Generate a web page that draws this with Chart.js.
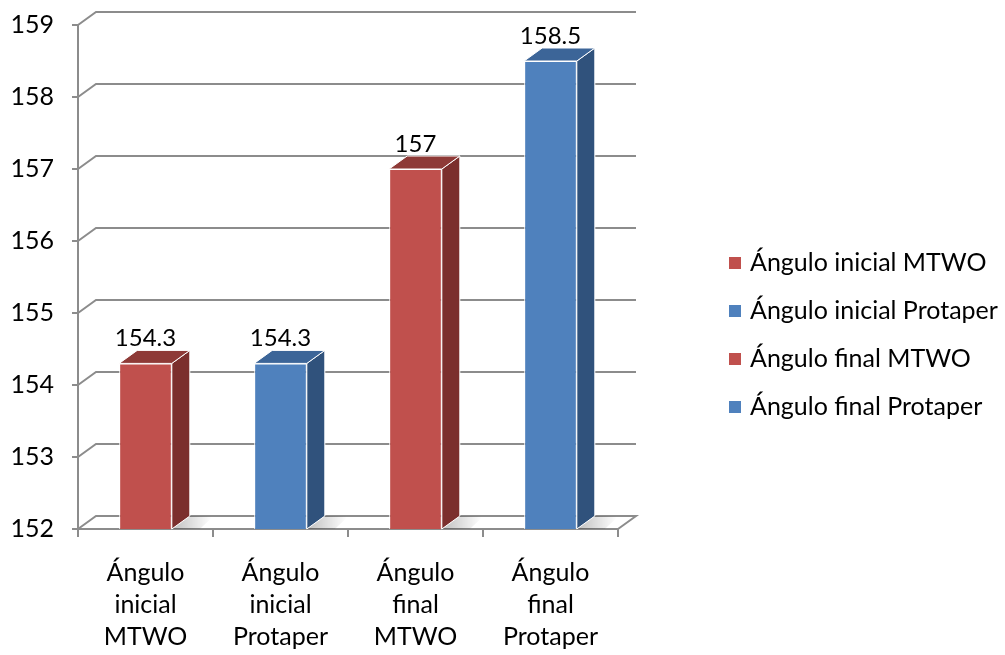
<!DOCTYPE html>
<html>
<head>
<meta charset="utf-8">
<script src="https://cdn.jsdelivr.net/npm/chart.js"></script>
<style>
  html, body { margin: 0; padding: 0; background: #fff; }
  #wrap { width: 1005px; height: 655px; }
</style>
</head>
<body>
<div id="wrap"><canvas id="myChart" width="1005" height="655"></canvas></div>
<script>
// data
const categories = [
    ['Ángulo', 'inicial', 'MTWO'],
    ['Ángulo', 'inicial', 'Protaper'],
    ['Ángulo', 'final', 'MTWO'],
    ['Ángulo', 'final', 'Protaper']
];
const legendLabels = ['Ángulo inicial MTWO', 'Ángulo inicial Protaper', 'Ángulo final MTWO', 'Ángulo final Protaper'];
const values = [154.3, 154.3, 157, 158.5];
const valueLabels = ['154.3', '154.3', '157', '158.5'];
const yTicks = [152, 153, 154, 155, 156, 157, 158, 159];

// colours: front, side, top
const frontColors = ['#C0504D', '#4F81BD', '#C0504D', '#4F81BD'];
const sideColors = ['#7B2F2D', '#30527C', '#7B2F2D', '#30527C'];
const topColors = ['#8E3A37', '#3C6598', '#8E3A37', '#3C6598'];

const FONT = 'Lato, "Open Sans", sans-serif';
const DX = 18, DY = -13; // depth offset
const gridColor = '#8C8C8C';

// Back wall + floor gridlines
const wallPlugin = {
    id: 'wall',
    beforeDatasetsDraw(chart) {
        const ctx = chart.ctx;
        const area = chart.chartArea;
        const y = chart.scales.y;
        const floor = y.getPixelForValue(yTicks[0]);
        ctx.save();
        ctx.strokeStyle = gridColor;
        ctx.lineWidth = 2;
        yTicks.forEach(v => {
            const py = y.getPixelForValue(v);
            ctx.beginPath();
            ctx.moveTo(area.left, py);
            ctx.lineTo(area.left + DX, py + DY);
            ctx.lineTo(area.right + DX, py + DY);
            if (v === yTicks[0]) {
                ctx.lineTo(area.right, py);
            }
            ctx.stroke();
        });
        // floor shadows behind bars
        const meta = chart.getDatasetMeta(0);
        meta.data.forEach(bar => {
            const right = bar.x + bar.width / 2;
            const g = ctx.createLinearGradient(right, 0, right + 40, 0);
            g.addColorStop(0, 'rgba(0,0,0,0.25)');
            g.addColorStop(1, 'rgba(0,0,0,0)');
            ctx.fillStyle = g;
            ctx.beginPath();
            ctx.moveTo(right, floor);
            ctx.lineTo(right + DX, floor + DY);
            ctx.lineTo(right + DX + 24, floor + DY);
            ctx.lineTo(right + 28, floor);
            ctx.closePath();
            ctx.fill();
        });
        ctx.restore();
    }
};

// 3D faces, value labels, legend
const boxPlugin = {
    id: 'box',
    afterDatasetsDraw(chart) {
        const ctx = chart.ctx;
        const meta = chart.getDatasetMeta(0);
        const base = chart.scales.y.getPixelForValue(yTicks[0]);
        ctx.save();
        ctx.lineWidth = 1;
        ctx.strokeStyle = '#FFFFFF';
        meta.data.forEach((bar, i) => {
            const left = bar.x - bar.width / 2;
            const right = bar.x + bar.width / 2;
            const top = bar.y;
            // side
            ctx.fillStyle = sideColors[i];
            ctx.beginPath();
            ctx.moveTo(right, top);
            ctx.lineTo(right + DX, top + DY);
            ctx.lineTo(right + DX, base + DY);
            ctx.lineTo(right, base);
            ctx.closePath();
            ctx.fill();
            ctx.stroke();
            // top
            ctx.fillStyle = topColors[i];
            ctx.beginPath();
            ctx.moveTo(left, top);
            ctx.lineTo(left + DX, top + DY);
            ctx.lineTo(right + DX, top + DY);
            ctx.lineTo(right, top);
            ctx.closePath();
            ctx.fill();
            ctx.stroke();
            // value label
            ctx.fillStyle = '#000';
            ctx.font = '24px ' + FONT;
            ctx.textAlign = 'center';
            ctx.textBaseline = 'alphabetic';
            ctx.fillText(valueLabels[i], bar.x, top + DY - 4);
        });
        ctx.restore();
    },
    afterDraw(chart) {
        const ctx = chart.ctx;
        ctx.save();
        ctx.font = '25px ' + FONT;
        ctx.textBaseline = 'middle';
        ctx.textAlign = 'left';
        legendLabels.forEach((t, i) => {
            const cy = 263 + i * 48;
            ctx.fillStyle = frontColors[i];
            ctx.fillRect(729, cy - 6, 12, 12);
            ctx.fillStyle = '#000';
            ctx.fillText(t, 750, cy);
        });
        ctx.restore();
    }
};

const ctx = document.getElementById('myChart');
const chart = new Chart(ctx, {
    type: 'bar',
    data: {
        labels: categories,
        datasets: [{
            label: 'Ángulo',
            data: values,
            backgroundColor: frontColors,
            borderColor: '#FFFFFF',
            borderWidth: 1,
            categoryPercentage: 1,
            barPercentage: 0.39
        }]
    },
    options: {
        responsive: false,
        animation: false,
        layout: { padding: { left: 0, right: 387, top: 25, bottom: 0 } },
        plugins: {
            legend: { display: false },
            tooltip: { enabled: false }
        },
        scales: {
            y: {
                min: 152,
                max: 159,
                afterFit(scale) {
                    scale.width = 78;
                    scale.paddingTop = 0;
                    scale.paddingBottom = 0;
                },
                afterBuildTicks(scale) { scale.ticks = yTicks.map(v => ({ value: v })); },
                ticks: {
                    color: '#000',
                    font: { family: FONT, size: 25 },
                    padding: 18
                },
                grid: { drawOnChartArea: false, tickLength: 6, color: gridColor, lineWidth: 2 },
                border: { color: gridColor, width: 2 }
            },
            x: {
                afterFit(scale) {
                    scale.height = 126;
                    scale.paddingLeft = 0;
                    scale.paddingRight = 0;
                },
                ticks: {
                    color: '#000',
                    font: { family: FONT, size: 25, lineHeight: '32px' },
                    padding: 20,
                    maxRotation: 0
                },
                grid: { offset: true, drawOnChartArea: false, tickLength: 8, color: gridColor, lineWidth: 2 },
                border: { color: gridColor, width: 2 }
            }
        }
    },
    plugins: [wallPlugin, boxPlugin]
});
</script>
</body>
</html>
